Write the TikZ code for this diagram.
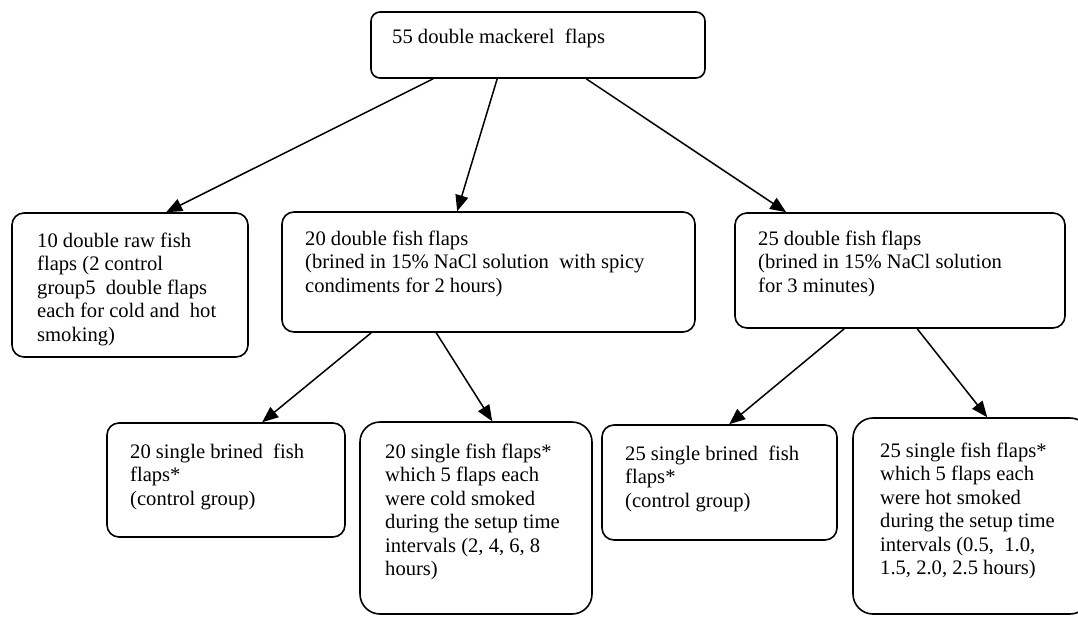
\documentclass[tikz,border=0pt]{standalone}
\usepackage{fontspec}
\setmainfont{Liberation Serif}
\usetikzlibrary{arrows.meta}
\begin{document}
\begin{tikzpicture}[x=1pt,y=-1pt,
  box/.style={draw=black, line width=1.6pt, rounded corners=12pt, inner sep=0pt},
  bigbox/.style={box, rounded corners=20pt},
  txt/.style={anchor=base west, inner sep=0pt, align=left, font=\fontsize{20.6}{23.5}\selectfont},
  arr/.style={line width=1.5pt, -{Triangle[length=16pt,width=13pt]}}]
\clip (0,0) rectangle (1078,616);
\fill[white] (0,0) rectangle (1078,616);
% boxes
\node[box, rounded corners=9pt, minimum width=334pt, minimum height=66pt] (top) at (538,45) {};
\node[box, minimum width=236pt, minimum height=144pt] (A) at (130,285) {};
\node[box, minimum width=413pt, minimum height=120pt] (B) at (488.5,272) {};
\node[box, minimum width=330pt, minimum height=115pt] (C) at (900,270.5) {};
\node[box, minimum width=238pt, minimum height=114pt] (D) at (226,480) {};
\node[bigbox, minimum width=232pt, minimum height=192pt] (E) at (476,518) {};
\node[box, minimum width=235pt, minimum height=115pt] (F) at (719.5,482.5) {};
\node[bigbox, minimum width=237pt, minimum height=196pt] (G) at (971.5,516) {};
% texts (anchor is the baseline of the last line)
\node[txt] (ttop) at (392,43) {55 double mackerel\ \ flaps};
\node[txt] (tA) at (37,341) {10 double raw fish\\flaps (2 control\\group5\ \ double flaps\\each for cold and\ \ hot\\smoking)};
\node[txt] (tB) at (305,292) {20 double fish flaps\\(brined in 15\% NaCl solution\ \ with spicy\\condiments for 2 hours)};
\node[txt] (tC) at (758,292) {25 double fish flaps\\(brined in 15\% NaCl solution\\for 3 minutes)};
\node[txt] (tD) at (130,505) {20 single brined\ \ fish\\flaps*\\(control group)};
\node[txt] (tE) at (385,575.5) {20 single fish flaps*\\which 5 flaps each\\were cold smoked\\during the setup time\\intervals (2, 4, 6, 8\\hours)};
\node[txt] (tF) at (625,507) {25 single brined\ \ fish\\flaps*\\(control group)};
\node[txt] (tG) at (880,574.5) {25 single fish flaps*\\which 5 flaps each\\were hot smoked\\during the setup time\\intervals (0.5,\ \ 1.0,\\1.5, 2.0, 2.5 hours)};
% arrows
\draw[arr] ([xshift=63pt]top.south west) -- ([xshift=155pt]A.north west);
\draw[arr] ([xshift=127pt]top.south west) -- ([xshift=176pt]B.north west);
\draw[arr] ([xshift=216pt]top.south west) -- ([xshift=52pt]C.north west);
\draw[arr] ([xshift=90pt]B.south west) -- ([xshift=156pt]D.north west);
\draw[arr] ([xshift=155pt]B.south west) -- ([xshift=133pt]E.north west);
\draw[arr] ([xshift=110pt]C.south west) -- ([xshift=128pt]F.north west);
\draw[arr] ([xshift=183pt]C.south west) -- ([xshift=135pt]G.north west);
\end{tikzpicture}
\end{document}
